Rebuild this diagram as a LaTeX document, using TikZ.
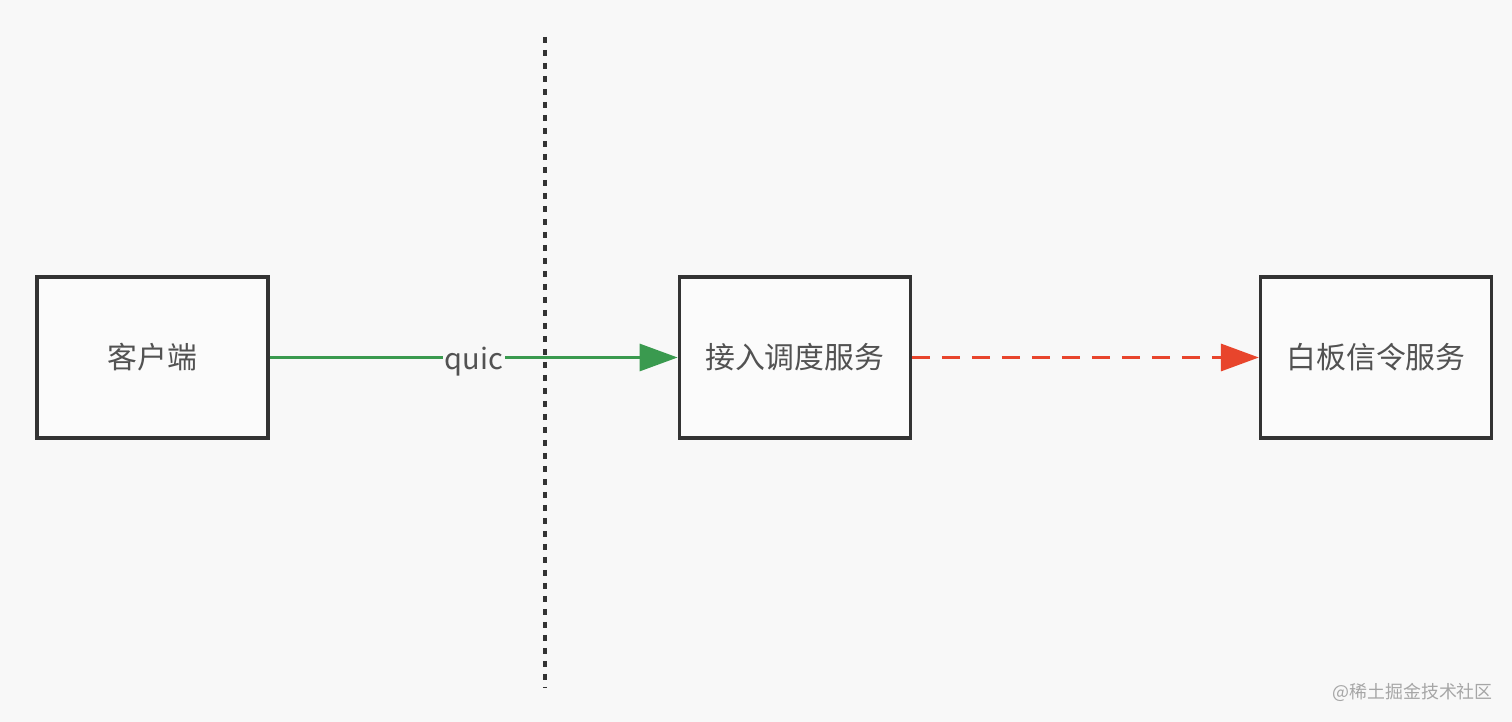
\documentclass[tikz,border=0pt]{standalone}
\usepackage{fontspec}
\setmainfont{Noto Sans CJK SC}
\usepackage{tikz}
\usetikzlibrary{arrows.meta, positioning}
\definecolor{bgpaper}{HTML}{F8F8F8}
\definecolor{boxline}{HTML}{333333}
\definecolor{quicgreen}{HTML}{3A9A4F}
\definecolor{signalred}{HTML}{E8452C}
\tikzset{
  svcbox/.style={
    rectangle, minimum width=4.62cm, minimum height=3.22cm,
    text centered, font=\fontsize{17}{20}\selectfont,
    draw=boxline, line width=0.065cm, fill=bgpaper!60!white, text=boxline!85!white
  },
  quicarrow/.style={-{Triangle[length=0.76cm, width=0.54cm]}, line width=0.06cm, color=quicgreen},
  signalarrow/.style={-{Triangle[length=0.76cm, width=0.54cm]}, line width=0.065cm, color=signalred,
    dash pattern=on 0.36cm off 0.24cm},
  borderline/.style={line width=0.07cm, color=boxline, dash pattern=on 0.12cm off 0.14cm},
}

\begin{document}
\begin{tikzpicture}
          \fill[bgpaper](0,0) rectangle (30.24,-14.44);
          \useasboundingbox(0,0) rectangle (30.24,-14.44);
          \node[svcbox](client) at (3.05,-7.15){客户端};
          \node[svcbox,right=8.16cm of client](access){接入调度服务};
          \node[svcbox,right=6.94cm of access](signal){白板信令服务};
          \coordinate (fenceTop) at (10.9,-0.74);
          \coordinate (fenceBot) at (10.9,-13.76);
          \draw[borderline](fenceTop)--(fenceBot);
          \draw[quicarrow](client.east)--node[fill=bgpaper,inner sep=1pt,
                text=boxline!85!white,font=\fontsize{16.5}{20}\selectfont,yshift=-0.08cm]{quic}(access.west);
          \draw[signalarrow](access.east)--(signal.west);
          \node[anchor=east,text=gray!70,font=\fontsize{10.2}{12}\selectfont](mark)
                at (29.98,-13.84){@稀土掘金技术社区};
        \end{tikzpicture}
\end{document}
